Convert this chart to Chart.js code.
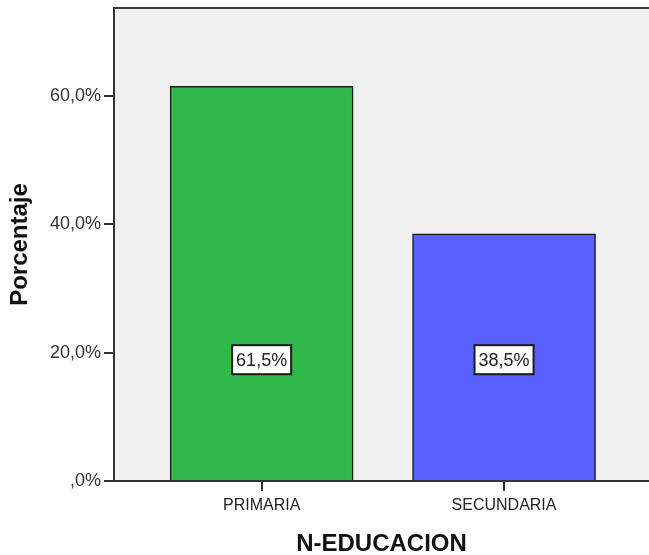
<!DOCTYPE html>
<html>
<head>
<meta charset="utf-8">
<script src="https://cdn.jsdelivr.net/npm/chart.js@4/dist/chart.umd.min.js"></script>
<style>
html,body{margin:0;padding:0;background:#fff;overflow:hidden;}
#wrap{width:649px;height:555px;}
</style>
</head>
<body>
<div id="wrap"><canvas id="c" width="649" height="555"></canvas></div>
<script>
const categories = ['PRIMARIA', 'SECUNDARIA'];
const percentages = [61.5, 38.5];
const valueLabels = ['61,5%', '38,5%'];
const yTickValues = [0, 20, 40, 60];
const yTickLabels = [',0%', '20,0%', '40,0%', '60,0%'];
const barColors = ['#30b84a', '#5a5fff'];

const FONT = "'Liberation Sans', Arial, sans-serif";

const plotBg = {
  id: 'plotBg',
  beforeDraw(chart) {
    const {ctx, chartArea: a} = chart;
    ctx.save();
    ctx.fillStyle = '#f0f0f0';
    ctx.fillRect(a.left, a.top, a.right - a.left, a.bottom - a.top);
    ctx.strokeStyle = '#3a3a3a';
    ctx.lineWidth = 2;
    ctx.beginPath();
    ctx.moveTo(a.left, a.top);
    ctx.lineTo(a.right, a.top);
    ctx.stroke();
    ctx.restore();
  }
};

const boxLabels = {
  id: 'boxLabels',
  afterDatasetsDraw(chart) {
    const {ctx} = chart;
    const meta = chart.getDatasetMeta(0);
    const y = chart.scales.y.getPixelForValue(18.9);
    ctx.save();
    ctx.font = '18px ' + FONT;
    ctx.textAlign = 'center';
    ctx.textBaseline = 'middle';
    meta.data.forEach((bar, i) => {
      const t = valueLabels[i];
      const w = ctx.measureText(t).width + 8;
      const h = 29;
      ctx.fillStyle = '#ffffff';
      ctx.fillRect(bar.x - w / 2, y - h / 2, w, h);
      ctx.strokeStyle = '#1a1a1a';
      ctx.lineWidth = 2;
      ctx.strokeRect(bar.x - w / 2, y - h / 2, w, h);
      ctx.fillStyle = '#222';
      ctx.fillText(t, bar.x, y + 1);
    });
    ctx.restore();
  }
};

new Chart(document.getElementById('c'), {
  type: 'bar',
  data: {
    datasets: [{
      data: categories.map((c, i) => ({x: i, y: percentages[i]})),
      backgroundColor: barColors,
      borderColor: '#1a1a1a',
      borderWidth: 1.5,
      barThickness: 183
    }]
  },
  options: {
    responsive: false,
    animation: false,
    devicePixelRatio: 1,
    layout: {padding: {top: 8, right: 0, left: 0, bottom: 0}},
    plugins: {legend: {display: false}, tooltip: {enabled: false}},
    scales: {
      x: {
        type: 'linear',
        offset: false,
        min: -0.609,
        max: 1.598,
        afterBuildTicks(scale) { scale.ticks = categories.map((c, i) => ({value: i})); },
        afterFit(scale) { scale.height = 74; scale.paddingLeft = 0; scale.paddingRight = 0; },
        ticks: {
          callback: (v) => categories[v] ?? '',
          color: '#222',
          font: {family: FONT, size: 16},
          padding: 5,
          autoSkip: false,
          maxRotation: 0
        },
        grid: {display: true, offset: false, drawOnChartArea: false, drawTicks: true, tickLength: 10, color: '#333', lineWidth: 2},
        border: {display: true, color: '#333', width: 2},
        title: {display: true, text: 'N-EDUCACION', color: '#111', font: {family: FONT, size: 24, weight: 'bold', lineHeight: 0.9}, padding: {top: 0, bottom: 0}}
      },
      y: {
        type: 'linear',
        min: 0,
        max: 73.7,
        afterBuildTicks(scale) { scale.ticks = yTickValues.map(v => ({value: v})); },
        afterFit(scale) { scale.width = 114; scale.paddingTop = 0; scale.paddingBottom = 0; },
        ticks: {
          callback: (v) => yTickLabels[yTickValues.indexOf(v)] ?? '',
          color: '#333',
          font: {family: FONT, size: 18},
          padding: 3
        },
        grid: {display: true, drawOnChartArea: false, drawTicks: true, tickLength: 10, color: '#333', lineWidth: 2},
        border: {display: true, color: '#333', width: 2},
        title: {display: true, text: 'Porcentaje', color: '#111', font: {family: FONT, size: 24, weight: 'bold', lineHeight: 1.2}, padding: {top: 6, bottom: 0}}
      }
    }
  },
  plugins: [plotBg, boxLabels]
});
</script>
</body>
</html>
